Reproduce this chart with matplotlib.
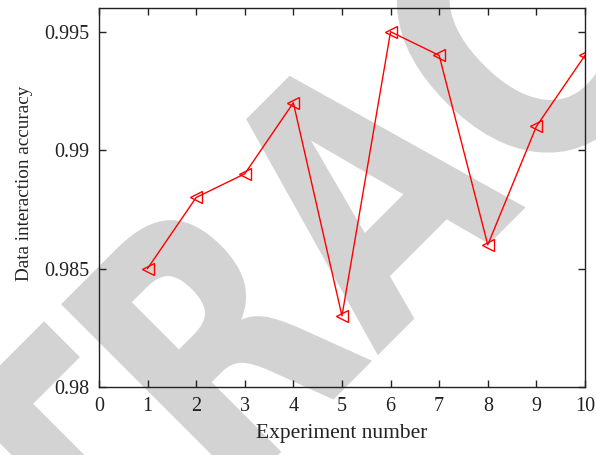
import matplotlib
matplotlib.use('Agg')
import matplotlib.pyplot as plt
from matplotlib.textpath import TextPath
from matplotlib.font_manager import FontProperties
from matplotlib.patches import PathPatch
from matplotlib.transforms import Affine2D, IdentityTransform

# ==== Data ====
experiment = [1, 2, 3, 4, 5, 6, 7, 8, 9, 10]
accuracy = [0.985, 0.988, 0.989, 0.992, 0.983, 0.995, 0.994, 0.986, 0.991, 0.994]
x_ticks = list(range(0, 11))
y_ticks = [0.98, 0.985, 0.99, 0.995]
y_tick_labels = ['0.98', '0.985', '0.99', '0.995']

plt.rcParams['font.family'] = 'Liberation Serif'

fig = plt.figure(figsize=(5.96, 4.55), dpi=100)
ax = fig.add_axes([0.166, 0.1495, 0.8155, 0.8329])
ax.patch.set_alpha(0)

# ==== Watermark (drawn behind the axes, in pixel space) ====
word = "RETRACTED"
gaps = [24, 24, 24, 8, 18, 24, 24, 24]  # space after each letter
prop = FontProperties(family='DejaVu Sans', weight='bold')
cap_px = 260
cap_units = TextPath((0, 0), 'H', size=100, prop=prop).get_extents().y1
k = cap_px / cap_units
a_ext = TextPath((0, 0), 'A', size=100, prop=prop).get_extents()
sx = (209 / cap_px) / (a_ext.width / cap_units)

glyphs = []
lefts = []
pos = 0.0
for i, ch in enumerate(word):
    p = TextPath((0, 0), ch, size=100, prop=prop)
    ext = p.get_extents()
    glyphs.append((p, ext))
    lefts.append(pos)
    pos += ext.width * k * sx + (gaps[i] if i < len(gaps) else 0)
shift = 16 - lefts[4]

for (p, ext), left in zip(glyphs, lefts):
    tr = (Affine2D().translate(-ext.x0, 0).scale(k * sx, k)
          .translate(left + shift, 0).rotate_deg(45).translate(366.5, 88.5))
    patch = PathPatch(tr.transform_path(p), facecolor='#d3d3d3',
                      edgecolor='none', transform=IdentityTransform(), zorder=-5)
    fig.add_artist(patch)

# ==== Plot ====
ax.plot(experiment, accuracy, color='red', linewidth=1.0, marker='<',
        markersize=8, markerfacecolor='none', markeredgecolor='red',
        markeredgewidth=1.0)

ax.set_xlim(0, 10)
ax.set_ylim(0.98, 0.996)
ax.set_xticks(x_ticks)
ax.set_yticks(y_ticks)
ax.set_yticklabels(y_tick_labels)
ax.tick_params(direction='in', length=5, width=1, top=True, right=True,
               labelsize=14.5, colors='#222222', pad=7)
for sp in ax.spines.values():
    sp.set_linewidth(1.0)
    sp.set_color('#222222')

ax.set_xlabel('Experiment number', fontsize=15.5, color='#222222', labelpad=6)
ax.set_ylabel('Data interaction accuracy', fontsize=13.8, color='#222222')
ax.yaxis.set_label_coords(-0.135, 0.537)

fig.savefig('out.png', dpi=100, facecolor='white')
